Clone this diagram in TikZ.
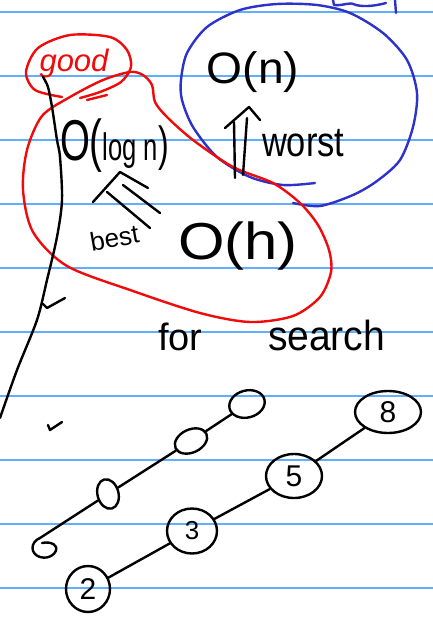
\documentclass[tikz,border=0pt]{standalone}
\usepackage{fontspec}
\setmainfont{Liberation Sans}
\usetikzlibrary{shapes.geometric}
\definecolor{rulecol}{RGB}{95,175,250}
\definecolor{penred}{RGB}{240,10,10}
\definecolor{penblue}{RGB}{45,50,200}
\begin{document}
\begin{tikzpicture}[x=1pt,y=-1pt,
  ink/.style={line width=2.4pt,line cap=round,line join=round},
  tnode/.style={ellipse,draw,ink,inner sep=0pt},
  lbl/.style={inner sep=0pt,outer sep=0pt},
  fs/.style={font=\fontsize{#1}{#1}\selectfont}]
\fill[white] (0,0) rectangle (433,624);
\useasboundingbox (0,0) rectangle (433,624);
% ruled paper
\foreach \yy in {12,76,...,588} \draw[rulecol,line width=1.3pt] (0,\yy) -- (433,\yy);

% blue scribble at top right and blue loop
\draw[ink,penblue] (333,0) -- (334,5) .. controls (345,6) and (350,1) .. (356,5) .. controls (364,7) and (375,6) .. (386,3);
\draw[ink,penblue] (395,0) -- (396,13);
\draw[ink,penblue] plot[smooth] coordinates {(315,183) (283,185) (250,177) (217,157) (193,127) (182,100) (181,80) (187,53) (207,27) (240,10) (277,4) (317,5) (350,13) (383,33) (407,60) (417,93) (413,127) (400,160) (377,181) (353,195) (320,206) (293,203)};

% red loops
\draw[ink,penred] plot[smooth cycle] coordinates {(70,97) (103,80) (130,72) (143,75) (152,85) (155,102) (167,117) (193,140) (233,167) (273,183) (300,203) (318,225) (329,250) (331,272) (320,297) (293,316) (250,322) (200,313) (133,291) (67,266) (33,232) (23,190) (27,150) (42,116)};
\draw[ink,penred] plot[smooth] coordinates {(62,97) (35,90) (26,72) (38,48) (70,35) (110,37) (127,50) (131,67) (121,82) (100,92) (80,98)};
\draw[ink,penred] (87,100) -- (107,95);
\node[lbl,text=penred,fs=31,anchor=base] (good) at (74,71) {\itshape good};

% black left line and ticks
\draw[ink] plot[smooth] coordinates {(43,77) (48,87) (52,107) (57,140) (60,157) (62,200) (57,237) (47,280) (37,320) (17,370) (0,418)};
\draw[ink] (43,304) -- (47,308) -- (65,298);
\draw[ink] (48,425) -- (50,430) -- (62,422);

% texts
\node[lbl,fs=44,anchor=base] (On) at (253,83) {\scalebox{1.05}[1]{O(n)}};
\node[lbl,fs=42,anchor=base west] (worst) at (262,156) {\scalebox{0.82}[1]{worst}};
\node[lbl,anchor=base west] (Olog) at (60,160) {\scalebox{0.8}[1.2]{\fontsize{48}{48}\selectfont O(\fontsize{32}{32}\selectfont log n\fontsize{40}{40}\selectfont )}};
\node[lbl,fs=26,anchor=base,rotate=10] (best) at (116,247) {best};
\node[lbl,fs=52,anchor=base] (Oh) at (238,259) {\scalebox{1.15}[1]{O(h)}};
\node[lbl,fs=38,anchor=base west] (for) at (158,350) {for};
\node[lbl,fs=42,anchor=base west] (search) at (268,350) {\scalebox{0.93}[1]{search}};

% worst double arrow
\draw[ink] (234,122) -- (235,178);
\draw[ink] (247,118) -- (243,175);
\draw[ink] (225,128) -- (249,107) -- (260,120);
% best double arrow
\draw[ink] (93,202) -- (120,172) -- (148,188);
\draw[ink] (107,192) -- (150,228);
\draw[ink] (123,185) -- (160,213);

% tree 1 (empty nodes)
\node[tnode,minimum width=36pt,minimum height=27pt,rotate=15] (a) at (247,404) {};
\node[tnode,minimum width=34pt,minimum height=23pt,rotate=25] (b) at (191,441) {};
\node[tnode,minimum width=21pt,minimum height=30pt,rotate=15] (c) at (108,494) {};
\coordinate (d) at (40,538);
\draw[ink] (a) -- (b);
\draw[ink] (b) -- (c);
\draw[ink] (c) -- (d) .. controls (30,542) and (30,554) .. (40,557) .. controls (50,560) and (58,552) .. (56,547) .. controls (54,542) and (46,542) .. (42,543);

% tree 2
\node[tnode,minimum width=66pt,minimum height=42pt,fs=30] (n8) at (388,412) {8};
\node[tnode,minimum width=56pt,minimum height=44pt,fs=30] (n5) at (294,476) {5};
\node[tnode,minimum width=50pt,minimum height=45pt,fs=26] (n3) at (192,531) {3};
\node[tnode,minimum width=44pt,minimum height=46pt,fs=30] (n2) at (88,589) {2};
\draw[ink] (n8) -- (n5);
\draw[ink] (n5) -- (n3);
\draw[ink] (n3) -- (n2);
\end{tikzpicture}
\end{document}
